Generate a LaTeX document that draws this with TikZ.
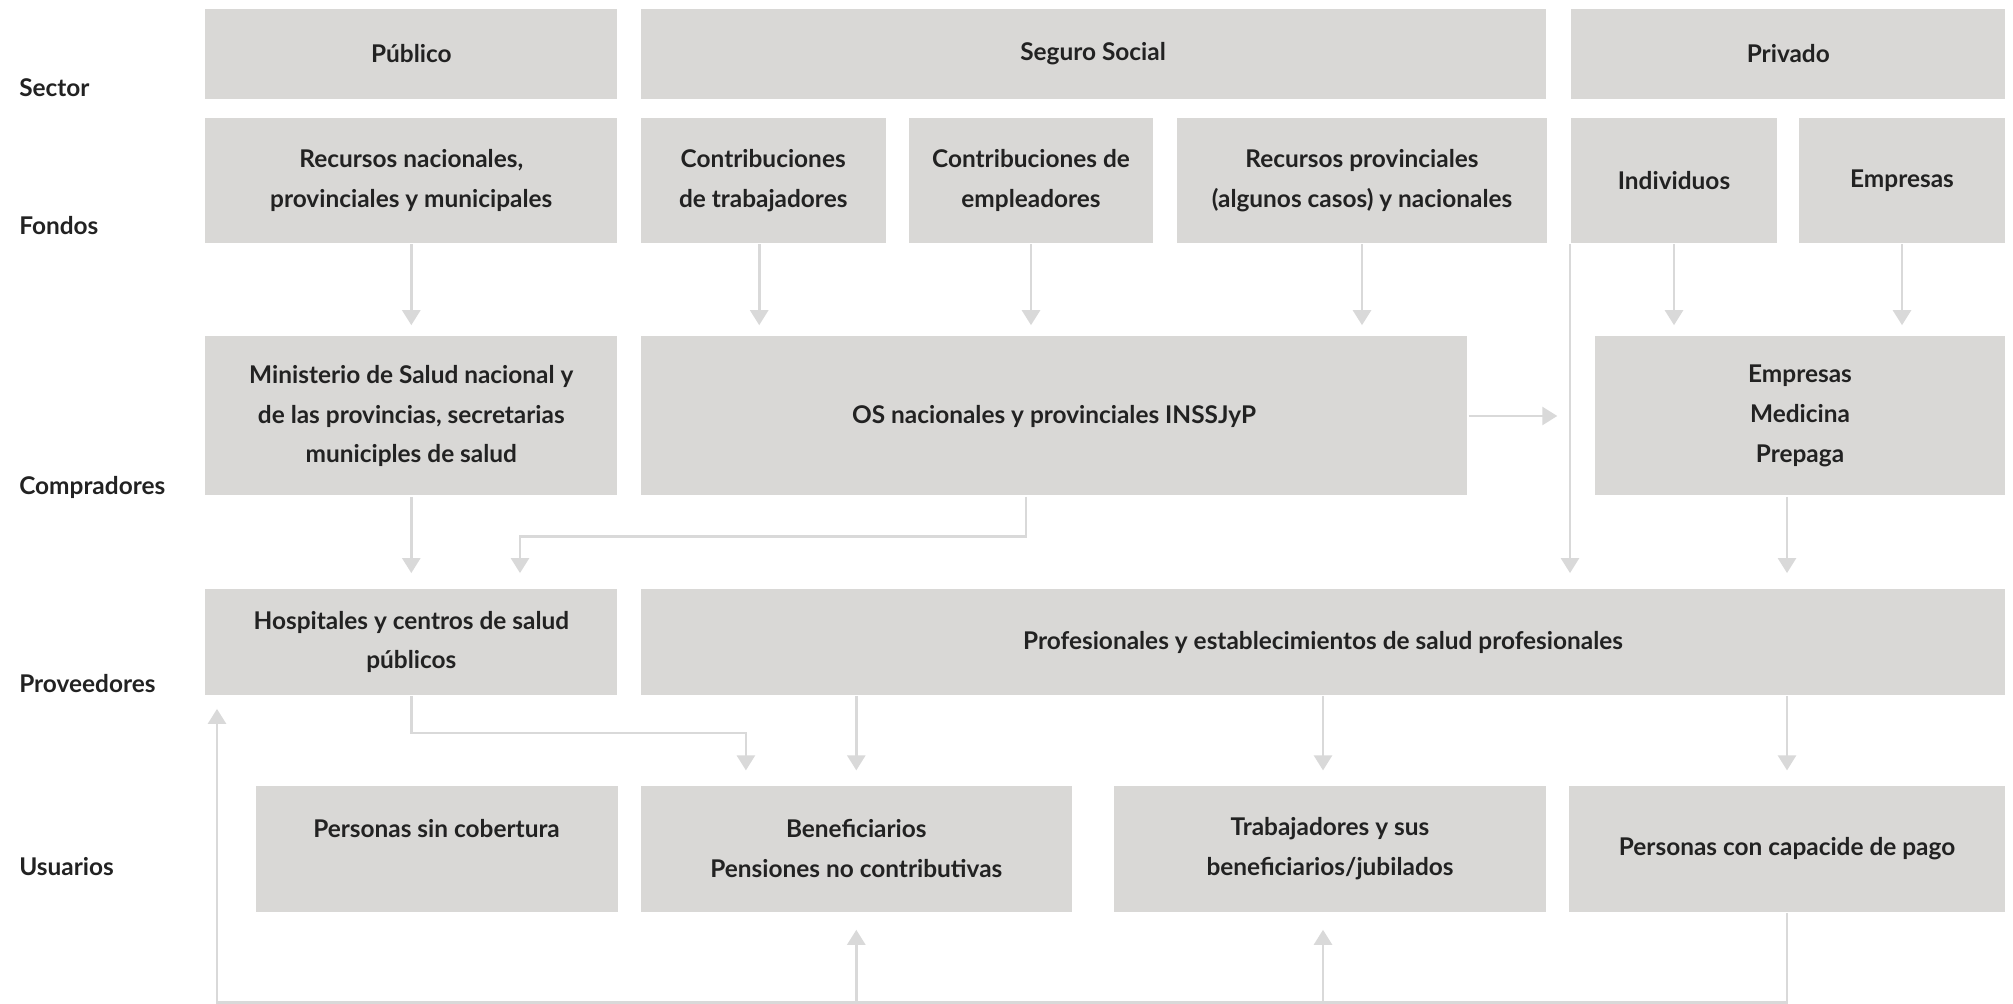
\documentclass[tikz,border=0pt]{standalone}
\usepackage{fontspec}
\setmainfont{Lato}
\usepackage{xcolor}
\usetikzlibrary{positioning, arrows.meta}

\definecolor{cajagris}{HTML}{D9D8D6}
\definecolor{lineagris}{HTML}{D9D9D9}
\definecolor{textogris}{HTML}{222222}

\tikzset{
  caja/.style={fill=cajagris, draw=none, inner sep=0pt, align=center, text=textogris,
    font=\fontsize{12.2}{19.9}\selectfont\bfseries},
  fila/.style={anchor=base west, inner sep=0pt, text=textogris,
    font=\fontsize{12.2}{19.9}\selectfont\bfseries},
}

\begin{document}
\begin{tikzpicture}[x=0.5pt, y=-0.5pt, ->, >={Triangle[width=9pt,length=7.5pt]},
    line width=1.3pt, draw=lineagris, color=lineagris]
      \useasboundingbox (0,0) rectangle (2013,1004);

      % etiquetas de filas
      \node[fila] (lsec) at (18,97) {Sector};
      \node[fila] (lfon) at (18,235) {Fondos};
      \node[fila] (lcom) at (18,495) {Compradores};
      \node[fila] (lpro) at (18,693) {Proveedores};
      \node[fila] (lusu) at (18,875) {Usuarios};

      % sector
      \node[caja, minimum width=206pt, minimum height=45pt] (pub) at (411.3,54) {Público};
      \node[caja, minimum width=452.5pt, minimum height=45pt] (seg) at (1093,54) {Seguro Social};
      \node[caja, minimum width=217pt, minimum height=45pt] (priv) at (1788.3,54) {Privado};

      % fondos
      \node[caja, minimum width=206pt, minimum height=62.5pt] (fpub) at (411.3,180.5) {Recursos nacionales,\\provinciales y municipales};
      \node[caja, minimum width=122.6pt, minimum height=62.5pt] (ftrab) at (763.2,180.5) {Contribuciones\\de trabajadores};
      \node[caja, minimum width=122pt, minimum height=62.5pt] (femp) at (1031,180.5) {Contribuciones de\\empleadores};
      \node[caja, minimum width=185pt, minimum height=62.5pt] (fprov) at (1362,180.5) {Recursos provinciales\\(algunos casos) y nacionales};
      \node[caja, minimum width=102.7pt, minimum height=62.5pt] (find) at (1674,180.5) {Individuos};
      \node[caja, minimum width=103.3pt, minimum height=62.5pt] (fempr) at (1902,180.5) {Empresas};

      % compradores
      \node[caja, minimum width=206pt, minimum height=79.5pt] (min) at (411.3,416) {Ministerio de Salud nacional y\\de las provincias, secretarias\\municiples de salud};
      \node[caja, minimum width=413.4pt, minimum height=79.5pt] (os) at (1054,416) {OS nacionales y provinciales INSSJyP};
      \node[caja, minimum width=205.4pt, minimum height=79.5pt] (pre) at (1800,416) {Empresas\\Medicina\\Prepaga};

      % proveedores
      \node[caja, minimum width=206pt, minimum height=52.6pt] (hosp) at (411.3,642) {Hospitales y centros de salud\\públicos};
      \node[caja, minimum width=682.3pt, minimum height=52.6pt] (prof) at (1323,642) {Profesionales y establecimientos de salud profesionales};

      % usuarios
      \node[caja, minimum width=181pt, minimum height=62.9pt] (sin) at (436.5,848.6) {Personas sin cobertura\\\mbox{}};
      \node[caja, minimum width=215.7pt, minimum height=62.9pt] (ben) at (856.3,848.6) {Beneficiarios\\Pensiones no contributivas};
      \node[caja, minimum width=215.7pt, minimum height=62.9pt] (trab) at (1330,848.6) {Trabajadores y sus\\beneficiarios/jubilados};
      \node[caja, minimum width=218.3pt, minimum height=62.9pt] (pag) at (1787,848.6) {Personas con capacide de pago};

      \coordinate (q1) at (520,536.6);
      \coordinate (q2) at (745.9,733);
      \coordinate (q3) at (217,1002.6);

      % fondos -> compradores
      \draw[shorten >=5pt] (fpub.south) -- (min.north);
      \draw[shorten >=5pt] ([xshift=-2pt]ftrab.south) -- ([xshift=-2pt]ftrab.south |- os.north);
      \draw[shorten >=5pt] (femp.south) -- (femp.south |- os.north);
      \draw[shorten >=5pt] (fprov.south) -- (fprov.south |- os.north);
      \draw[shorten >=5pt] (find.south) -- (find.south |- pre.north);
      \draw[shorten >=5pt] (fempr.south) -- (fempr.south |- pre.north);
      \draw[shorten >=7.5pt] (find.south west) -- (find.south west |- prof.north);
      \draw[shorten >=18pt] (os.east) -- (os.east -| pre.west);

      % compradores -> proveedores
      \draw[shorten >=7.5pt] (min.south) -- (hosp.north);
      \draw[shorten >=7.5pt] ([xshift=-14pt]os.south) |- (q1) -- (q1 |- hosp.north);
      \draw[shorten >=7.5pt] (pag.north |- pre.south) -- (pag.north |- prof.north);

      % proveedores -> usuarios
      \draw[shorten >=7pt] (hosp.south) |- (q2) -- (q2 |- ben.north);
      \draw[shorten >=7pt] (ben.north |- prof.south) -- (ben.north);
      \draw[shorten >=7pt] (prof.south) -- (prof.south |- trab.north);
      \draw[shorten >=7pt] (pag.north |- prof.south) -- (pag.north);

      % retorno
      \draw[shorten >=6.5pt] (pag.south) |- (q3) -- (q3 |- hosp.south);
      \draw[shorten >=8.5pt] (ben.south |- q3) -- (ben.south);
      \draw[shorten >=8.5pt] (prof.south |- q3) -- (prof.south |- trab.south);
    \end{tikzpicture}
\end{document}
